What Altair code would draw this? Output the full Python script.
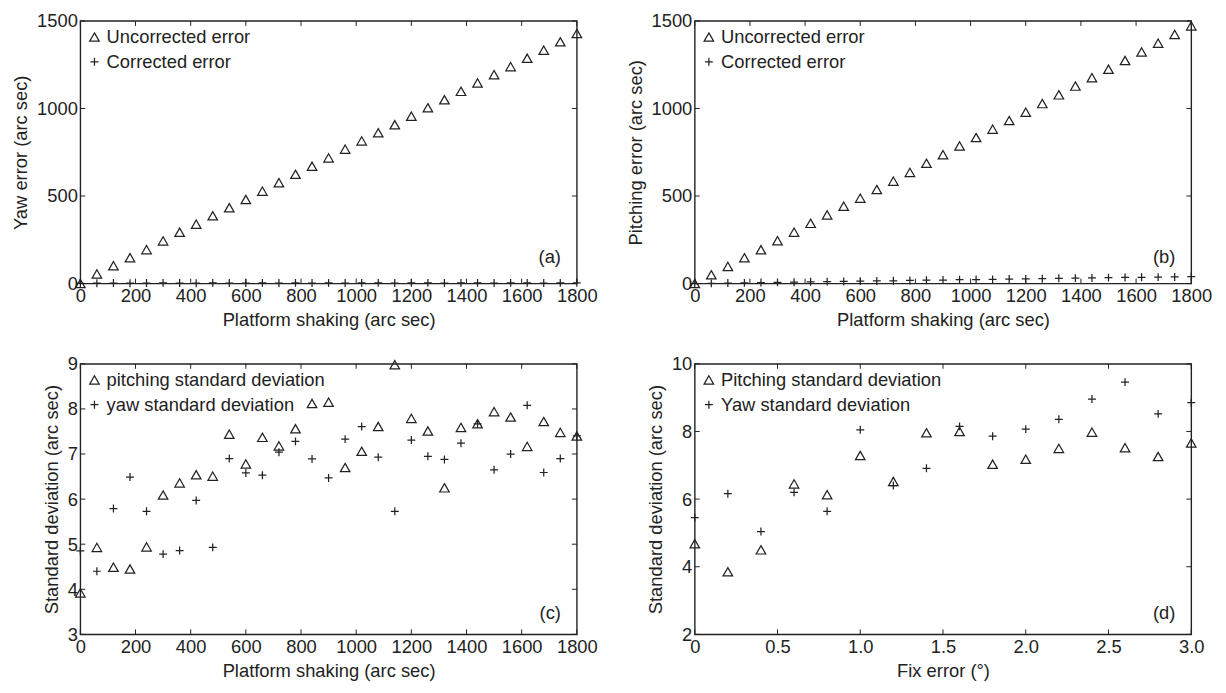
import altair as alt
import pandas as pd

FONT = "Liberation Sans"
INK = "#222222"
W = 501
H_TOP, H_BOT = 265, 273
FS = 18.5

TRI = "M0,-1.05L1.2,1.05L-1.2,1.05Z"
PLUS = "M-1,0H1M0,-1V1"

# ---- data ----
shake = [0, 60, 120, 180, 240, 300, 360, 420, 480, 540, 600, 660, 720, 780, 840,
         900, 960, 1020, 1080, 1140, 1200, 1260, 1320, 1380, 1440, 1500, 1560,
         1620, 1680, 1740, 1800]

a_uncorr = [0, 55, 102, 148, 194, 244, 293, 339, 387, 433, 480, 528, 576, 624, 670,
            718, 768, 815, 861, 907, 956, 1004, 1050, 1098, 1146, 1193, 1239, 1287,
            1333, 1381, 1428]
a_corr = [1, 2, 3, 2, 3, 4, 3, 2, 4, 3, 3, 4, 3, 4, 3, 4, 3, 4, 4, 3, 4, 4, 3, 4,
          4, 3, 4, 4, 3, 4, 4]

b_uncorr = [0, 50, 98, 147, 193, 245, 294, 344, 392, 442, 488, 537, 585, 635, 687,
            736, 786, 834, 882, 931, 979, 1028, 1078, 1128, 1176, 1224, 1274, 1323,
            1373, 1423, 1472]
b_corr = [0, 1, 3, 4, 6, 7, 8, 10, 11, 12, 14, 15, 16, 18, 19, 20, 22, 23, 24, 26,
          27, 28, 30, 31, 32, 34, 35, 36, 37, 38, 40]

c_pitch = [3.92, 4.93, 4.49, 4.45, 4.94, 6.09, 6.36, 6.54, 6.51, 7.44, 6.78, 7.37,
           7.18, 7.56, 8.12, 8.15, 6.70, 7.06, 7.61, 8.98, 7.79, 7.51, 6.25, 7.59,
           7.67, 7.94, 7.82, 7.17, 7.72, 7.48, 7.40]
c_yaw = [4.85, 4.40, 5.79, 6.49, 5.73, 4.78, 4.86, 5.97, 4.93, 6.90, 6.58, 6.53,
         7.04, 7.28, 6.89, 6.47, 7.33, 7.61, 6.93, 5.73, 7.31, 6.95, 6.88, 7.24,
         7.67, 6.65, 7.00, 8.08, 6.59, 6.90, 7.40]

fix = [0, 0.2, 0.4, 0.6, 0.8, 1.0, 1.2, 1.4, 1.6, 1.8, 2.0, 2.2, 2.4, 2.6, 2.8, 3.0]
d_pitch = [4.68, 3.85, 4.50, 6.45, 6.13, 7.29, 6.52, 7.96, 8.00, 7.03, 7.18, 7.50,
           7.98, 7.52, 7.26, 7.66]
d_yaw = [5.45, 6.16, 5.04, 6.20, 5.64, 8.05, 6.40, 6.91, 8.15, 7.86, 8.07, 8.36,
         8.96, 9.46, 8.52, 8.85]

shake_ticks = [0, 200, 400, 600, 800, 1000, 1200, 1400, 1600, 1800]
err_ticks = [0, 500, 1000, 1500]
sd_ticks_c = [3, 4, 5, 6, 7, 8, 9]
fix_ticks = [0, 0.5, 1.0, 1.5, 2.0, 2.5, 3.0]
sd_ticks_d = [2, 4, 6, 8, 10]


def panel(xs, s1, s2, labels, xdom, ydom, xticks, yticks, xtitle, ytitle, tag,
          tag_up, H, xlabel_expr=None):
    df = pd.DataFrame({
        "x": list(xs) + list(xs),
        "y": list(s1) + list(s2),
        "series": [labels[0]] * len(xs) + [labels[1]] * len(xs),
    })
    xscale = alt.Scale(domain=xdom, nice=False, zero=False)
    yscale = alt.Scale(domain=ydom, nice=False, zero=False)
    xaxis_kw = dict(values=xticks, title=xtitle, labelFlush=False)
    if xlabel_expr:
        xaxis_kw["labelExpr"] = xlabel_expr
    else:
        xaxis_kw["format"] = "d"
    xaxis = alt.Axis(**xaxis_kw)
    yaxis = alt.Axis(values=yticks, title=ytitle, format="d")
    pts = alt.Chart(df).mark_point(
        filled=False, color=INK, strokeWidth=1.25, size=64, opacity=1
    ).encode(
        x=alt.X("x:Q", scale=xscale, axis=xaxis),
        y=alt.Y("y:Q", scale=yscale, axis=yaxis),
        shape=alt.Shape(
            "series:N",
            scale=alt.Scale(domain=labels, range=[TRI, PLUS]),
            legend=alt.Legend(
                title=None, orient="none", legendX=5, legendY=7,
                labelFontSize=FS, labelFont=FONT, labelColor=INK, labelLimit=500,
                symbolSize=64, symbolStrokeWidth=1.25, symbolStrokeColor=INK,
                labelOffset=3, rowPadding=6, padding=0,
            ),
        ),
    )
    xt = pd.DataFrame({"x": xticks})
    yt = pd.DataFrame({"y": yticks})
    rule = dict(color=INK, strokeWidth=1)
    bottom = alt.Chart(xt).mark_rule(**rule).encode(
        x=alt.X("x:Q", scale=xscale, axis=xaxis), y=alt.value(H), y2=alt.value(H - 5))
    top = alt.Chart(xt).mark_rule(**rule).encode(
        x=alt.X("x:Q", scale=xscale, axis=xaxis), y=alt.value(0), y2=alt.value(5))
    left = alt.Chart(yt).mark_rule(**rule).encode(
        y=alt.Y("y:Q", scale=yscale, axis=yaxis), x=alt.value(0), x2=alt.value(5))
    right = alt.Chart(yt).mark_rule(**rule).encode(
        y=alt.Y("y:Q", scale=yscale, axis=yaxis), x=alt.value(W), x2=alt.value(W - 5))
    lab = alt.Chart(pd.DataFrame({"t": [tag]})).mark_text(
        align="right", baseline="middle", font=FONT, fontSize=FS, color=INK
    ).encode(text="t:N", x=alt.value(W - 16), y=alt.value(H - tag_up))
    return alt.layer(pts, bottom, top, left, right, lab).properties(width=W, height=H)


pa = panel(shake, a_uncorr, a_corr, ["Uncorrected error", "Corrected error"],
           [0, 1800], [0, 1500], shake_ticks, err_ticks,
           "Platform shaking (arc sec)", "Yaw error (arc sec)", "(a)", 27, H_TOP)
pb = panel(shake, b_uncorr, b_corr, ["Uncorrected error", "Corrected error"],
           [0, 1800], [0, 1500], shake_ticks, err_ticks,
           "Platform shaking (arc sec)", "Pitching error (arc sec)", "(b)", 27, H_TOP)
pc = panel(shake, c_pitch, c_yaw,
           ["pitching standard deviation", "yaw standard deviation"],
           [0, 1800], [3, 9], shake_ticks, sd_ticks_c,
           "Platform shaking (arc sec)", "Standard deviation (arc sec)", "(c)", 22,
           H_BOT)
pd_ = panel(fix, d_pitch, d_yaw,
            ["Pitching standard deviation", "Yaw standard deviation"],
            [0, 3], [2, 10], fix_ticks, sd_ticks_d,
            "Fix error (°)", "Standard deviation (arc sec)", "(d)", 22, H_BOT,
            xlabel_expr="datum.value == 0 ? '0' : format(datum.value, '.1f')")

chart = alt.concat(pa, pb, pc, pd_, columns=2,
                   spacing=alt.RowColnumber(row=24, column=27)).resolve_scale(
    shape="independent"
).properties(
    background="white",
    padding={"top": 0, "left": 3, "right": 5, "bottom": 0},
).configure_view(
    stroke=INK, strokeWidth=1.4
).configure_axis(
    domain=False, ticks=False, grid=False,
    labelFont=FONT, labelFontSize=FS, labelColor=INK, labelPadding=3,
    titleFont=FONT, titleFontSize=FS, titleFontWeight="normal", titleColor=INK,
    titlePadding=6,
)

chart.save("out.html", embed_options={"renderer": "svg", "actions": False})
